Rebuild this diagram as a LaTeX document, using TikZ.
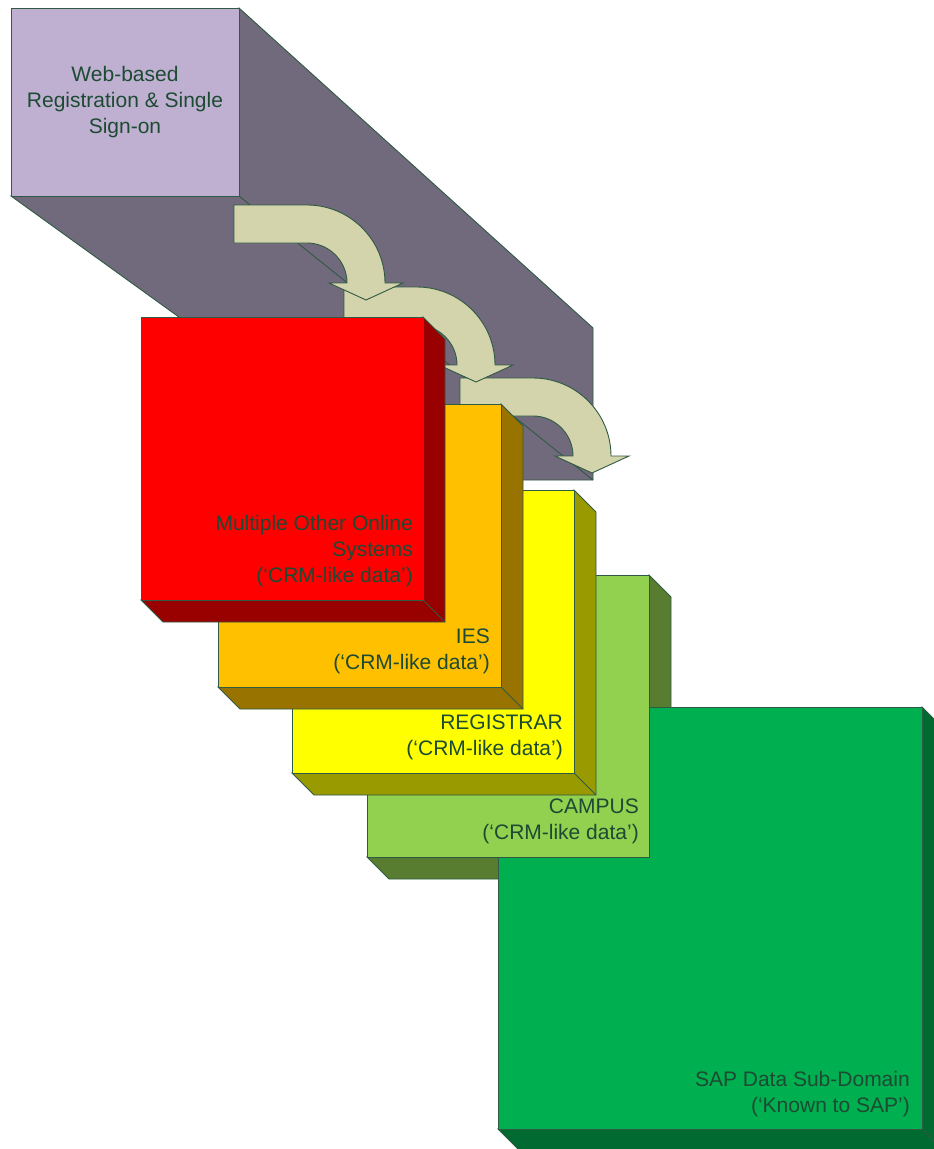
\documentclass[tikz,border=0pt]{standalone}
\usepackage{fontspec}
\setmainfont{Liberation Sans}

\definecolor{edgegreen}{HTML}{2F5A43}
\definecolor{txtgreen}{HTML}{1D4A33}
\definecolor{webfront}{HTML}{BFB0D1}
\definecolor{webside}{HTML}{716A7C}
\definecolor{flowfill}{HTML}{D3D3AC}
\definecolor{redfront}{HTML}{FF0000}
\definecolor{redside}{HTML}{990000}
\definecolor{orangefront}{HTML}{FFC000}
\definecolor{orangeside}{HTML}{997300}
\definecolor{yellowfront}{HTML}{FFFF00}
\definecolor{yellowside}{HTML}{999900}
\definecolor{limefront}{HTML}{92D050}
\definecolor{limeside}{HTML}{587D30}
\definecolor{sapfront}{HTML}{00B050}
\definecolor{sapside}{HTML}{006A30}

\tikzset{
  edge/.style={draw=edgegreen, line width=0.9pt},
  flow/.style={edge, fill=flowfill},
  lbl/.style={font=\fontsize{21}{26}\selectfont, text=txtgreen, align=right,
    inner sep=0pt, anchor=south east},
}

% side faces of a block, pushed back 22 to the lower right
\newcommand{\blockside}[5]{%
  \filldraw[edge, fill=#5] (#3,#2) -- (#3+22,#2+22) -- (#3+22,#4+22)
    -- (#1+22,#4+22) -- (#1,#4) -- (#3,#4) -- cycle;
  \draw[edge] (#3,#4) -- (#3+22,#4+22);}
\newcommand{\blockfront}[5]{\filldraw[edge, fill=#5] (#1,#2) rectangle (#3,#4);}
% curved block arrow, (#1,#2) is the centre of its bend
\newcommand{\bentarrow}[2]{%
  \filldraw[flow, shift={(#1,#2)}] (-73,-78) -- (0,-78)
    .. controls (43,-78) and (78,-43) .. (78,0) -- (96,0) -- (59,17)
    -- (22,0) -- (40,0) .. controls (40,-22) and (22,-40) .. (0,-40)
    -- (-73,-40) -- cycle;}

\begin{document}
\begin{tikzpicture}[x=1pt, y=-1pt]
  \useasboundingbox (0,0) rectangle (934,1149);
  % web registration block with its long extrusion
  \filldraw[edge, fill=webside] (239,8) -- (593,328) -- (593,480) -- (405,480)
    -- (11,196) -- (239,196) -- cycle;
  \draw[edge] (239,196) -- (593,480);
  \filldraw[edge, fill=webfront] (11,8) rectangle (239,196);
  \node[lbl, align=center, anchor=center] (web) at (125,102)
    {Web-based\\Registration \& Single\\Sign-on};
  % arrows, back to front
  \bentarrow{533}{456}
  \bentarrow{417}{365}
  \bentarrow{307}{283}
  % campus sides sit under the SAP block, its face on top
  \blockside{367}{575}{649}{857}{limeside}
  \blockside{498}{707}{922}{1129}{sapside}
  \blockfront{498}{707}{922}{1129}{sapfront}
  \node[lbl] (sap) at (910,1117) {SAP Data Sub-Domain\\(‘Known to SAP’)};
  \blockfront{367}{575}{649}{857}{limefront}
  \node[lbl] (campus) at (639,844) {CAMPUS\\(‘CRM-like data’)};
  \blockside{292}{490}{574}{773}{yellowside}
  \blockfront{292}{490}{574}{773}{yellowfront}
  \node[lbl] (registrar) at (563,760) {REGISTRAR\\(‘CRM-like data’)};
  \blockside{218}{404}{501}{687}{orangeside}
  \blockfront{218}{404}{501}{687}{orangefront}
  \node[lbl] (ies) at (490,674) {IES\\(‘CRM-like data’)};
  \blockside{141}{317}{423}{600}{redside}
  \blockfront{141}{317}{423}{600}{redfront}
  \node[lbl] (online) at (413,587) {Multiple Other Online\\Systems\\(‘CRM-like data’)};
\end{tikzpicture}
\end{document}
